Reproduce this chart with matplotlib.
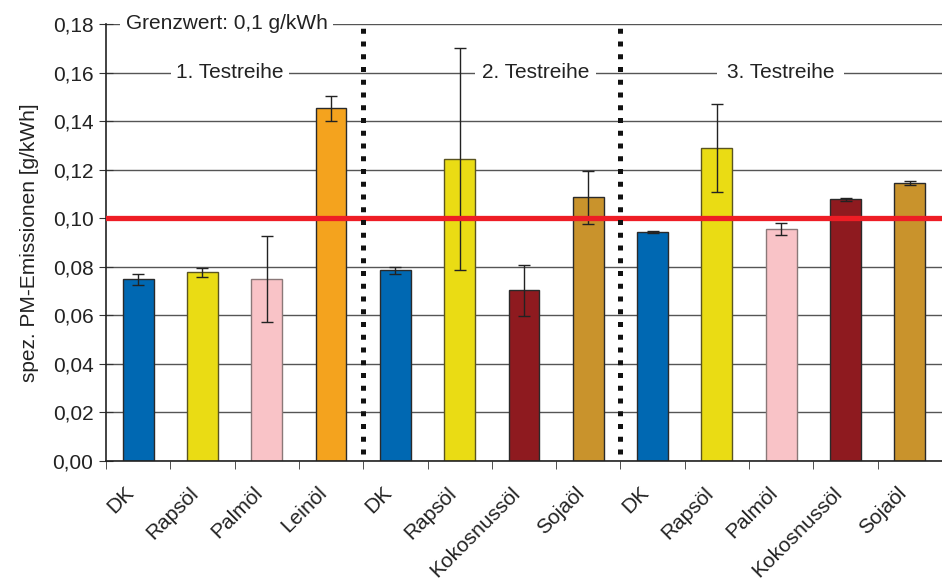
import numpy as np
import matplotlib
matplotlib.use("Agg")
import matplotlib.pyplot as plt

plt.rcParams['font.family'] = ['Liberation Sans', 'DejaVu Sans']

# daten
kategorien = ["DK", "Rapsöl", "Palmöl", "Leinöl",
              "DK", "Rapsöl", "Kokosnussöl", "Sojaöl",
              "DK", "Rapsöl", "Palmöl", "Kokosnussöl", "Sojaöl"]
werte = [0.0748, 0.0777, 0.0748, 0.1452,
         0.0785, 0.1245, 0.0703, 0.1086,
         0.0943, 0.1290, 0.0954, 0.1078, 0.1144]
fehler = [0.0022, 0.0020, 0.0177, 0.0051,
          0.0014, 0.0457, 0.0104, 0.0109,
          0.0005, 0.0180, 0.0025, 0.0006, 0.0008]
grenzwert = 0.1
trennung = [3.5, 7.5]
reihen = ["1. Testreihe", "2. Testreihe", "3. Testreihe"]
yticks = [0.0, 0.02, 0.04, 0.06, 0.08, 0.10, 0.12, 0.14, 0.16, 0.18]

farben = {"DK": "#0068B2", "Rapsöl": "#EADC14", "Palmöl": "#F9C3C7",
          "Leinöl": "#F4A31E", "Kokosnussöl": "#8E1A1F", "Sojaöl": "#C9932C"}
kanten = {"Palmöl": "#8a7878", "Rapsöl": "#5a5420"}

fig = plt.figure(figsize=(9.42, 5.81), dpi=100)
ax = fig.add_axes([0.1125, 0.2065, 0.8875, 0.7522])

x = np.arange(len(kategorien))
ax.bar(x, werte, width=0.48,
       color=[farben[k] for k in kategorien],
       edgecolor=[kanten.get(k, "#2a2a2a") for k in kategorien],
       linewidth=1.0, zorder=2)
ax.errorbar(x, werte, yerr=fehler, fmt='none', ecolor='#222222',
            elinewidth=1.0, capsize=4.3, capthick=1.0, zorder=3)

# grenzwert linie
ax.axhline(grenzwert, color='#EE1D25', linewidth=3.8, zorder=4)

# trennlinien
for t in trennung:
    ax.plot([t, t], [0.003, 0.1785], color='#111111', linewidth=3.6,
            linestyle=(0, (1, 1.55)), dash_capstyle='butt', zorder=5)

ax.set_xlim(-0.5, 12.36)
ax.set_ylim(0, 0.18)
ax.set_yticks(yticks)
ax.set_yticklabels([f"{v:.2f}".replace('.', ',') for v in yticks], fontsize=15,
                   color='#222222')
ax.yaxis.grid(True, color='#555555', linewidth=1.0, zorder=0)
ax.set_axisbelow(True)

ax.set_xticks(x)
ax.set_xticklabels(kategorien, rotation=45, ha='right', va='top', fontsize=15,
                   color='#222222')
ax.set_xticks(np.arange(-0.5, 13, 1), minor=True)
ax.tick_params(axis='x', which='major', length=0, pad=16)
ax.tick_params(axis='x', which='minor', length=6, direction='out', color='#333333')
ax.tick_params(axis='y', length=10, direction='inout', color='#333333', pad=4)

for s in ['top', 'right']:
    ax.spines[s].set_visible(False)
for s in ['left', 'bottom']:
    ax.spines[s].set_color('#222222')
    ax.spines[s].set_linewidth(1.2)

ax.set_ylabel("spez. PM-Emissionen [g/kWh]", fontsize=15, color='#222222', labelpad=10)

box = dict(facecolor='white', edgecolor='none', pad=4)
ax.text(1.377, 0.18, "Grenzwert: 0,1 g/kWh", ha='center', va='center',
        fontsize=15, color='#222222', bbox=box, zorder=6)
for xpos, txt, p in zip([1.43, 6.18, 9.99], reihen, [4, 5, 7]):
    ax.text(xpos, 0.16, txt, ha='center', va='center', fontsize=15,
            color='#222222', zorder=6,
            bbox=dict(facecolor='white', edgecolor='none', pad=p))

plt.savefig("out.png", dpi=100)
